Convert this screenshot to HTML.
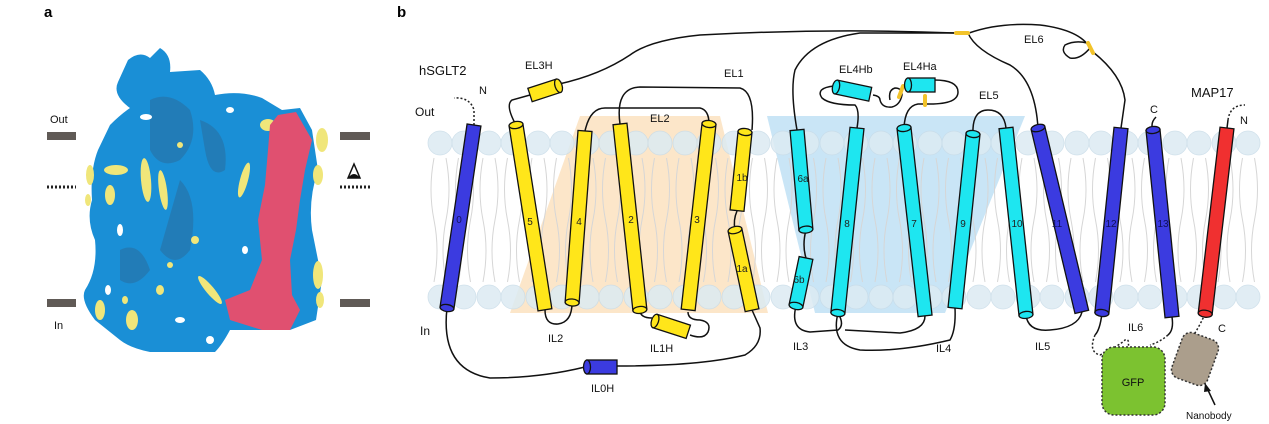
<!DOCTYPE html>
<html><head><meta charset="utf-8"><style>
html,body{margin:0;padding:0;background:#fff;}
svg{display:block;font-family:"Liberation Sans",sans-serif;}
.h{stroke:#111;stroke-width:1.3;}
.l{fill:none;stroke:#111;stroke-width:1.5;}
.t{font-size:11px;fill:#111;}
.n{font-size:10px;fill:#222;}
</style></head><body>
<svg width="1269" height="424" viewBox="0 0 1269 424" xmlns="http://www.w3.org/2000/svg">
<defs>
<pattern id="tails" x="428" y="150" width="24.5" height="140" patternUnits="userSpaceOnUse">
<path d="M6 8 Q0 40 6 70 Q12 100 6 132 M18 8 Q24 40 18 70 Q12 100 18 132" fill="none" stroke="#d6d6d6" stroke-width="1"/>
</pattern>
</defs>
<!-- panel a -->
<text x="44" y="17" font-size="15" font-weight="bold">a</text>
<text x="397" y="17" font-size="15" font-weight="bold">b</text>
<rect x="47" y="132" width="29" height="8" fill="#605a56"/>
<rect x="340" y="132" width="30" height="8" fill="#605a56"/>
<rect x="47" y="299" width="29" height="8" fill="#605a56"/>
<rect x="340" y="299" width="30" height="8" fill="#605a56"/>
<line x1="47" y1="187" x2="76" y2="187" stroke="#222" stroke-width="3" stroke-dasharray="2,2"/>
<line x1="340" y1="187" x2="370" y2="187" stroke="#222" stroke-width="3" stroke-dasharray="2,2"/>
<text x="50" y="123" class="t" font-size="13">Out</text>
<text x="54" y="329" class="t" font-size="13">In</text>
<path d="M348 178 L354 164 L360 178 Z" fill="none" stroke="#111" stroke-width="1.5"/><path d="M348 178 Q354 170 360 178Z" fill="#111"/>
<path d="M128 60 Q140 50 150 58 L160 48 Q172 55 170 72 L200 70 Q212 80 215 95 Q240 90 262 98 L282 110 L300 108 L312 130 L318 170 Q308 200 312 230 L322 280 L316 320 L290 330 L230 330 Q222 345 215 352 L150 352 Q130 348 120 340 L95 320 Q80 300 85 290 Q98 270 95 240 Q86 220 92 200 Q90 170 98 150 L110 125 Q120 115 130 108 Q112 95 118 82 Z" fill="#1a8fd6"/>
<g fill="#2a6e9e" opacity="0.55">
<path d="M150 100 Q170 90 190 110 Q200 140 180 160 Q160 170 150 150Z"/>
<path d="M180 180 Q200 200 190 250 Q175 270 160 250Z"/>
<path d="M200 120 Q230 130 225 170 Q210 180 205 150Z"/>
<path d="M120 250 Q140 240 150 270 Q135 290 120 280Z"/>
</g>
<g fill="#fff">
<ellipse cx="146" cy="117" rx="6" ry="3"/><ellipse cx="120" cy="230" rx="3" ry="6"/><ellipse cx="230" cy="110" rx="4" ry="3"/>
<ellipse cx="180" cy="320" rx="5" ry="3"/><ellipse cx="210" cy="340" rx="4" ry="4"/><ellipse cx="108" cy="290" rx="3" ry="5"/>
<ellipse cx="245" cy="250" rx="3" ry="4"/><ellipse cx="195" cy="45" rx="0" ry="0"/>
</g>
<g fill="#f0e67a">
<ellipse cx="146" cy="180" rx="5" ry="22" transform="rotate(-5 146 180)"/>
<ellipse cx="163" cy="190" rx="4" ry="20" transform="rotate(-8 163 190)"/>
<ellipse cx="116" cy="170" rx="12" ry="5"/>
<ellipse cx="110" cy="195" rx="5" ry="10"/>
<ellipse cx="90" cy="175" rx="4" ry="10"/>
<ellipse cx="88" cy="200" rx="3" ry="6"/>
<ellipse cx="244" cy="180" rx="4" ry="18" transform="rotate(15 244 180)"/>
<ellipse cx="268" cy="125" rx="8" ry="6"/>
<ellipse cx="322" cy="140" rx="6" ry="12"/>
<ellipse cx="318" cy="175" rx="5" ry="10"/>
<ellipse cx="210" cy="290" rx="4" ry="18" transform="rotate(-40 210 290)"/>
<ellipse cx="132" cy="320" rx="6" ry="10"/>
<ellipse cx="100" cy="310" rx="5" ry="10"/>
<ellipse cx="318" cy="275" rx="5" ry="14"/>
<ellipse cx="195" cy="240" rx="4" ry="4"/>
<ellipse cx="160" cy="290" rx="4" ry="5"/>
<ellipse cx="280" cy="170" rx="5" ry="6"/>
<ellipse cx="170" cy="265" rx="3" ry="3"/>
<ellipse cx="125" cy="300" rx="3" ry="4"/>
<ellipse cx="180" cy="145" rx="3" ry="3"/>
<ellipse cx="320" cy="300" rx="4" ry="8"/>
</g>
<path d="M278 115 L296 112 L312 140 L305 170 L300 200 L296 230 L290 260 L292 295 L300 310 L290 330 L262 330 L230 320 L225 300 L250 290 L262 260 L258 220 L265 185 L268 150 L270 125 Z" fill="#e05070"/>
<!-- panel b membrane -->
<path d="M580 116 L720 116 L768 313 L510 313 Z" fill="#fbe0bc" opacity="0.8"/>
<path d="M767 116 L1025 116 L945 313 L815 313 Z" fill="#bfe0f4" opacity="0.85"/>
<rect x="428" y="150" width="830" height="140" fill="url(#tails)"/>
<g fill="#dcebf3" stroke="#c9dce8" stroke-width="0.8" opacity="0.85">
<circle cx="440" cy="143" r="12"/><circle cx="464" cy="143" r="12"/><circle cx="489" cy="143" r="12"/><circle cx="513" cy="143" r="12"/><circle cx="538" cy="143" r="12"/><circle cx="562" cy="143" r="12"/><circle cx="587" cy="143" r="12"/><circle cx="611" cy="143" r="12"/><circle cx="636" cy="143" r="12"/><circle cx="660" cy="143" r="12"/><circle cx="685" cy="143" r="12"/><circle cx="709" cy="143" r="12"/><circle cx="734" cy="143" r="12"/><circle cx="758" cy="143" r="12"/><circle cx="783" cy="143" r="12"/><circle cx="807" cy="143" r="12"/><circle cx="832" cy="143" r="12"/><circle cx="856" cy="143" r="12"/><circle cx="881" cy="143" r="12"/><circle cx="905" cy="143" r="12"/><circle cx="930" cy="143" r="12"/><circle cx="954" cy="143" r="12"/><circle cx="979" cy="143" r="12"/><circle cx="1003" cy="143" r="12"/><circle cx="1028" cy="143" r="12"/><circle cx="1052" cy="143" r="12"/><circle cx="1077" cy="143" r="12"/><circle cx="1101" cy="143" r="12"/><circle cx="1126" cy="143" r="12"/><circle cx="1150" cy="143" r="12"/><circle cx="1175" cy="143" r="12"/><circle cx="1199" cy="143" r="12"/><circle cx="1224" cy="143" r="12"/><circle cx="1248" cy="143" r="12"/>
<circle cx="440" cy="297" r="12"/><circle cx="464" cy="297" r="12"/><circle cx="489" cy="297" r="12"/><circle cx="513" cy="297" r="12"/><circle cx="538" cy="297" r="12"/><circle cx="562" cy="297" r="12"/><circle cx="587" cy="297" r="12"/><circle cx="611" cy="297" r="12"/><circle cx="636" cy="297" r="12"/><circle cx="660" cy="297" r="12"/><circle cx="685" cy="297" r="12"/><circle cx="709" cy="297" r="12"/><circle cx="734" cy="297" r="12"/><circle cx="758" cy="297" r="12"/><circle cx="783" cy="297" r="12"/><circle cx="807" cy="297" r="12"/><circle cx="832" cy="297" r="12"/><circle cx="856" cy="297" r="12"/><circle cx="881" cy="297" r="12"/><circle cx="905" cy="297" r="12"/><circle cx="930" cy="297" r="12"/><circle cx="954" cy="297" r="12"/><circle cx="979" cy="297" r="12"/><circle cx="1003" cy="297" r="12"/><circle cx="1028" cy="297" r="12"/><circle cx="1052" cy="297" r="12"/><circle cx="1077" cy="297" r="12"/><circle cx="1101" cy="297" r="12"/><circle cx="1126" cy="297" r="12"/><circle cx="1150" cy="297" r="12"/><circle cx="1175" cy="297" r="12"/><circle cx="1199" cy="297" r="12"/><circle cx="1224" cy="297" r="12"/><circle cx="1248" cy="297" r="12"/>
</g>
<!-- loops -->
<path class="l" d="M447 308 Q440 370 490 378 Q540 378 585 367"/>
<path class="l" d="M617 366 Q700 366 745 355 Q762 345 760 328 L752 310"/>
<path class="l" d="M516 125 Q505 105 512 100 L530 95"/>
<path class="l" d="M559 84 Q600 75 630 55 Q650 40 700 35 Q830 28 955 33"/>
<path class="l" d="M545 310 Q545 325 558 324 Q572 322 572 303"/>
<path class="l" d="M585 131 Q590 108 605 108 L700 108 Q709 110 709 124"/>
<path class="l" d="M620 124 Q615 88 640 87 L740 88 Q755 92 752 130"/>
<path class="l" d="M640 310 Q640 318 652 318"/>
<path class="l" d="M688 312 Q688 320 700 320 Q712 322 708 332 Q704 340 690 335"/>
<path class="l" d="M737 211 Q733 220 735 230"/>
<path class="l" d="M797 130 Q790 90 795 70 Q810 40 860 33 L955 33"/>
<path class="l" d="M806 230 Q802 245 806 258"/>
<path class="l" d="M796 306 Q790 330 810 332 L838 330 Q845 325 838 313"/>
<path class="l" d="M838 313 Q830 345 860 350 Q900 352 950 340 Q956 330 955 308"/>
<path class="l" d="M925 316 Q925 330 900 333 L845 330"/>
<path class="l" d="M857 128 Q860 110 855 105 Q830 105 822 98 Q815 88 834 86"/>
<path class="l" d="M873 95 Q880 96 880 100 Q882 108 892 107 Q900 105 902 95 Q902 88 895 88 Q888 90 890 100"/>
<path class="l" d="M934 80 Q958 80 958 92 Q958 104 930 104 L918 104 Q905 106 904 128"/>
<path class="l" d="M973 134 Q972 110 988 110 Q1004 110 1006 128"/>
<path class="l" d="M1026 315 Q1028 332 1050 330 Q1078 328 1082 312"/>
<path class="l" d="M1038 128 Q1035 80 1010 65 Q975 50 968 33"/>
<path class="l" d="M969 33 Q1000 22 1040 25 Q1080 30 1090 48 Q1080 60 1070 58 Q1060 52 1065 45 Q1075 40 1087 43"/>
<path class="l" d="M1093 52 Q1122 75 1125 100 L1121 128"/>
<path class="l" d="M1102 313 Q1100 330 1095 335"/>
<path class="l" d="M1172 317 Q1174 330 1168 335"/>
<path class="l" d="M1153 130 Q1150 123 1156 117"/>
<path class="l" d="M1227 128 L1228 120"/>
<path d="M1228 120 Q1230 105 1245 105" fill="none" stroke="#222" stroke-width="1.5" stroke-dasharray="2,2"/>
<path d="M474 125 L474 110 Q470 97 454 98" fill="none" stroke="#222" stroke-width="1.5" stroke-dasharray="2,2"/>
<path d="M1095 335 Q1088 352 1100 355 Q1120 345 1125 340 Q1130 338 1128 348" fill="none" stroke="#222" stroke-width="1.5" stroke-dasharray="2,2"/>
<path d="M1168 335 Q1160 342 1150 345" fill="none" stroke="#222" stroke-width="1.5" stroke-dasharray="2,2"/>
<path d="M1205 314 Q1200 325 1195 333" fill="none" stroke="#222" stroke-width="1.5" stroke-dasharray="2,2"/>
<!-- disulfides -->
<g stroke="#f2c32a" stroke-width="4" stroke-linecap="round"><line x1="956" y1="33" x2="968" y2="33"/><line x1="1088" y1="43" x2="1093" y2="53"/><line x1="903" y1="86" x2="899" y2="97"/><line x1="925" y1="96" x2="925" y2="105"/></g>
<!-- helices -->
<g class="h">
<g transform="translate(474,125) rotate(8.4)"><rect x="-7" y="0" width="14" height="185" fill="#3b3be0"/><ellipse cx="0" cy="185" rx="7" ry="3.5" fill="#3b3be0"/></g>
<g transform="translate(516,125) rotate(-8.9)"><rect x="-7" y="0" width="14" height="187" fill="#ffe61a"/><ellipse cx="0" cy="0" rx="7" ry="3.5" fill="#ffe61a"/></g>
<g transform="translate(585,131) rotate(4.3)"><rect x="-7" y="0" width="14" height="172" fill="#ffe61a"/><ellipse cx="0" cy="172" rx="7" ry="3.5" fill="#ffe61a"/></g>
<g transform="translate(620,124) rotate(-6.1)"><rect x="-7" y="0" width="14" height="187" fill="#ffe61a"/><ellipse cx="0" cy="187" rx="7" ry="3.5" fill="#ffe61a"/></g>
<g transform="translate(709,124) rotate(6.4)"><rect x="-7" y="0" width="14" height="187" fill="#ffe61a"/><ellipse cx="0" cy="0" rx="7" ry="3.5" fill="#ffe61a"/></g>
<g transform="translate(745,132) rotate(5.8)"><rect x="-7" y="0" width="14" height="79" fill="#ffe61a"/><ellipse cx="0" cy="0" rx="7" ry="3.5" fill="#ffe61a"/></g>
<g transform="translate(735,230) rotate(-12)"><rect x="-7" y="0" width="14" height="82" fill="#ffe61a"/><ellipse cx="0" cy="0" rx="7" ry="3.5" fill="#ffe61a"/></g>
<g transform="translate(797,130) rotate(-5.1)"><rect x="-7" y="0" width="14" height="100" fill="#1ee6f0"/><ellipse cx="0" cy="100" rx="7" ry="3.5" fill="#1ee6f0"/></g>
<g transform="translate(806,258) rotate(11.8)"><rect x="-7" y="0" width="14" height="49" fill="#1ee6f0"/><ellipse cx="0" cy="49" rx="7" ry="3.5" fill="#1ee6f0"/></g>
<g transform="translate(857,128) rotate(5.9)"><rect x="-7" y="0" width="14" height="186" fill="#1ee6f0"/><ellipse cx="0" cy="186" rx="7" ry="3.5" fill="#1ee6f0"/></g>
<g transform="translate(904,128) rotate(-6.4)"><rect x="-7" y="0" width="14" height="189" fill="#1ee6f0"/><ellipse cx="0" cy="0" rx="7" ry="3.5" fill="#1ee6f0"/></g>
<g transform="translate(973,134) rotate(5.9)"><rect x="-7" y="0" width="14" height="175" fill="#1ee6f0"/><ellipse cx="0" cy="0" rx="7" ry="3.5" fill="#1ee6f0"/></g>
<g transform="translate(1006,128) rotate(-6.1)"><rect x="-7" y="0" width="14" height="188" fill="#1ee6f0"/><ellipse cx="0" cy="188" rx="7" ry="3.5" fill="#1ee6f0"/></g>
<g transform="translate(1038,128) rotate(-13.4)"><rect x="-7" y="0" width="14" height="189" fill="#3b3be0"/><ellipse cx="0" cy="0" rx="7" ry="3.5" fill="#3b3be0"/></g>
<g transform="translate(1121,128) rotate(5.9)"><rect x="-7" y="0" width="14" height="186" fill="#3b3be0"/><ellipse cx="0" cy="186" rx="7" ry="3.5" fill="#3b3be0"/></g>
<g transform="translate(1153,130) rotate(-5.8)"><rect x="-7" y="0" width="14" height="188" fill="#3b3be0"/><ellipse cx="0" cy="0" rx="7" ry="3.5" fill="#3b3be0"/></g>
<g transform="translate(1227,128) rotate(6.7)"><rect x="-7" y="0" width="14" height="187" fill="#f03030"/><ellipse cx="0" cy="187" rx="7" ry="3.5" fill="#f03030"/></g>
<g transform="translate(530,95) rotate(-18)"><rect x="0" y="-7" width="30" height="14" fill="#ffe61a"/><ellipse cx="30" cy="0" rx="3.5" ry="7" fill="#ffe61a"/></g>
<g transform="translate(655,321) rotate(18)"><rect x="0" y="-7" width="35" height="14" fill="#ffe61a"/><ellipse cx="0" cy="0" rx="3.5" ry="7" fill="#ffe61a"/></g>
<g transform="translate(587,367)"><rect x="0" y="-7" width="30" height="14" fill="#3b3be0"/><ellipse cx="0" cy="0" rx="3.5" ry="7" fill="#3b3be0"/></g>
<g transform="translate(836,87) rotate(12)"><rect x="0" y="-7" width="35" height="14" fill="#1ee6f0"/><ellipse cx="0" cy="0" rx="3.5" ry="7" fill="#1ee6f0"/></g>
<g transform="translate(908,85)"><rect x="0" y="-7" width="27" height="14" fill="#1ee6f0"/><ellipse cx="0" cy="0" rx="3.5" ry="7" fill="#1ee6f0"/></g>
</g>
<g class="n" text-anchor="middle" font-size="11">
<text x="459" y="223" fill="#10105a">0</text><text x="530" y="225">5</text><text x="579" y="225">4</text><text x="631" y="223">2</text><text x="697" y="223">3</text>
<text x="742" y="181">1b</text><text x="742" y="272">1a</text><text x="803" y="182">6a</text><text x="799" y="283">6b</text>
<text x="847" y="227">8</text><text x="914" y="227">7</text><text x="963" y="227">9</text><text x="1017" y="227">10</text><text x="1057" y="227" fill="#10105a">11</text><text x="1111" y="227" fill="#10105a">12</text><text x="1163" y="227" fill="#10105a">13</text>
</g>
<g class="t">
<text x="419" y="75" font-size="13">hSGLT2</text>
<text x="479" y="94">N</text>
<text x="415" y="116" font-size="12">Out</text>
<text x="420" y="335" font-size="12">In</text>
<text x="525" y="69">EL3H</text>
<text x="724" y="77">EL1</text>
<text x="650" y="122">EL2</text>
<text x="548" y="342">IL2</text>
<text x="650" y="352">IL1H</text>
<text x="591" y="392">IL0H</text>
<text x="793" y="350">IL3</text>
<text x="839" y="73">EL4Hb</text>
<text x="903" y="70">EL4Ha</text>
<text x="979" y="99">EL5</text>
<text x="1024" y="43">EL6</text>
<text x="936" y="352">IL4</text>
<text x="1035" y="350">IL5</text>
<text x="1128" y="331">IL6</text>
<text x="1150" y="113">C</text>
<text x="1191" y="97" font-size="13">MAP17</text>
<text x="1240" y="124">N</text>
<text x="1218" y="332">C</text>
<text x="1186" y="419" font-size="10">Nanobody</text>
</g>
<rect x="1102" y="347" width="63" height="68" rx="12" fill="#7cc230" stroke="#333" stroke-width="1.5" stroke-dasharray="2,2"/>
<text x="1133" y="386" class="t" text-anchor="middle">GFP</text>
<rect x="1176" y="335" width="38" height="48" rx="9" fill="#ab9e8c" stroke="#333" stroke-width="1.5" stroke-dasharray="2,2" transform="rotate(20 1195 359)"/>
<line x1="1215" y1="405" x2="1207" y2="388" stroke="#111" stroke-width="1.5"/>
<path d="M1205 383 L1211 391 L1204 392 Z" fill="#111"/>
</svg>
</body></html>
